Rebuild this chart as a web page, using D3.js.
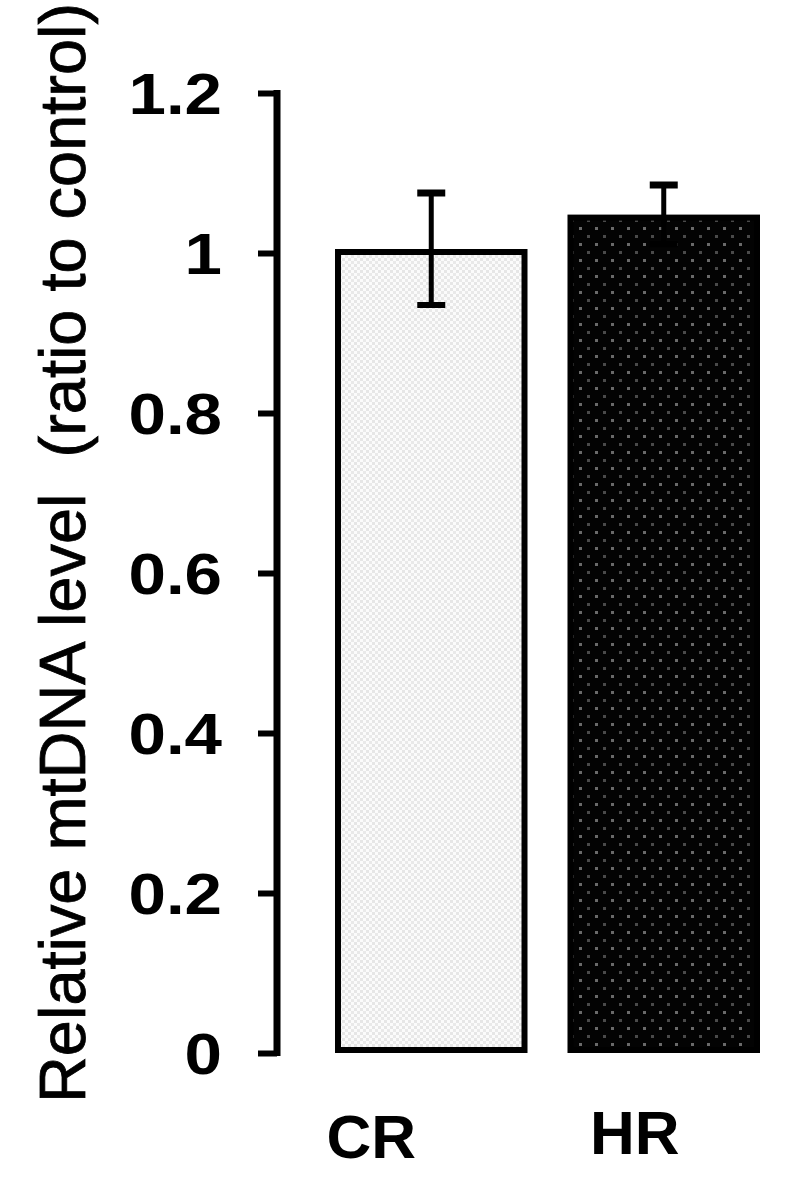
<!DOCTYPE html>
<html>
<head>
<meta charset="utf-8">
<title>mtDNA</title>
<style>
  body { margin: 0; background: #fff; }
  svg { display: block; font-family: 'Liberation Sans', Arial, Helvetica, sans-serif; }
  .tick-label { font-size: 58px; font-weight: 700; fill: #000; }
  .cat-label { font-size: 62px; font-weight: 700; fill: #000; }
  .y-title { font-size: 65px; fill: #000; white-space: pre; stroke: #000; stroke-width: 0.8px; }
</style>
</head>
<body>
<div id="chart"></div>
<script src="https://cdn.jsdelivr.net/npm/d3@7"></script>
<script>

// data
var groups = ["CR", "HR"];
var means = [1.005, 1.048];
var errors = [0.07, 0.037];
var yTicks = [0, 0.2, 0.4, 0.6, 0.8, 1, 1.2];
var tickLabels = ["0", "0.2", "0.4", "0.6", "0.8", "1", "1.2"];

var width = 787,
    height = 1183;

var svg = d3.select("#chart").append("svg")
    .attr("width", width)
    .attr("height", height);

// fill patterns
var defs = svg.append("defs");

var light = defs.append("pattern")
    .attr("id", "light")
    .attr("patternUnits", "userSpaceOnUse")
    .attr("width", 6).attr("height", 6);
light.append("rect").attr("width", 6).attr("height", 6).attr("fill", "#fbfbfb");
light.append("rect").attr("x", 0).attr("y", 0).attr("width", 3).attr("height", 3).attr("fill", "#e6e6e6");
light.append("rect").attr("x", 3).attr("y", 3).attr("width", 3).attr("height", 3).attr("fill", "#e9e9e9");

var dark = defs.append("pattern")
    .attr("id", "dark")
    .attr("patternUnits", "userSpaceOnUse")
    .attr("width", 16).attr("height", 16);
dark.append("rect").attr("width", 16).attr("height", 16).attr("fill", "#030303");
dark.append("rect").attr("x", 3).attr("y", 3).attr("width", 3).attr("height", 3).attr("fill", "#6a6a6a");
dark.append("rect").attr("x", 11).attr("y", 11).attr("width", 3).attr("height", 3).attr("fill", "#4a4a4a");

var y = d3.scaleLinear()
    .domain([0, 1.2])
    .range([1053, 93]);

var x = d3.scaleBand()
    .domain(groups)
    .range([335, 760])
    .paddingInner(0.172)
    .paddingOuter(0);

var sw = 6;
var fills = ["url(#light)", "url(#dark)"];
var labelShift = [-60, -29];

// bars
svg.append("g")
    .selectAll("rect")
    .data(groups)
    .enter().append("rect")
    .attr("x", function(d) { return x(d) + sw / 2; })
    .attr("width", x.bandwidth() - sw)
    .attr("y", function(d, i) { return y(means[i]) + sw / 2; })
    .attr("height", function(d, i) { return y(0) - y(means[i]) - sw; })
    .attr("fill", function(d, i) { return fills[i]; })
    .attr("stroke", "#000")
    .attr("stroke-width", sw);

// error bars
var eb = svg.append("g")
    .selectAll("g")
    .data(groups)
    .enter().append("g");

eb.append("line")
    .attr("x1", function(d) { return x(d) + x.bandwidth() / 2; })
    .attr("x2", function(d) { return x(d) + x.bandwidth() / 2; })
    .attr("y1", function(d, i) { return y(means[i] - errors[i]); })
    .attr("y2", function(d, i) { return y(means[i] + errors[i]); })
    .attr("stroke", "#000")
    .attr("stroke-width", 5);

eb.append("line")
    .attr("x1", function(d) { return x(d) + x.bandwidth() / 2 - 14; })
    .attr("x2", function(d) { return x(d) + x.bandwidth() / 2 + 14; })
    .attr("y1", function(d, i) { return y(means[i] + errors[i]); })
    .attr("y2", function(d, i) { return y(means[i] + errors[i]); })
    .attr("stroke", "#000")
    .attr("stroke-width", 7);

eb.append("line")
    .attr("x1", function(d) { return x(d) + x.bandwidth() / 2 - 14; })
    .attr("x2", function(d) { return x(d) + x.bandwidth() / 2 + 14; })
    .attr("y1", function(d, i) { return y(means[i] - errors[i]); })
    .attr("y2", function(d, i) { return y(means[i] - errors[i]); })
    .attr("stroke", "#000")
    .attr("stroke-width", 6);

// y axis
var axis = d3.axisLeft(y)
    .tickValues(yTicks)
    .tickFormat(function(d, i) { return tickLabels[i]; })
    .tickSize(19)
    .tickSizeOuter(0)
    .tickPadding(36);

var gAxis = svg.append("g")
    .attr("transform", "translate(277,0)")
    .attr("font-size", null)
    .attr("font-family", null)
    .call(axis);

gAxis.select(".domain")
    .attr("stroke", "#000")
    .attr("stroke-width", 7)
    .attr("d", "M0," + (y(1.2) - 3) + "V" + (y(0) + 3));
gAxis.selectAll(".tick line")
    .attr("stroke", "#000")
    .attr("stroke-width", 6);
var stretch = 1.16;
gAxis.selectAll(".tick text")
    .attr("class", "tick-label")
    .attr("x", -55 / stretch)
    .attr("transform", "scale(" + stretch + ",1)")
    .attr("dy", "0.36em");
gAxis.attr("font-size", null).attr("font-family", null);

// category labels
svg.append("g")
    .selectAll("text")
    .data(groups)
    .enter().append("text")
    .attr("class", "cat-label")
    .attr("text-anchor", "middle")
    .attr("x", function(d, i) { return x(d) + x.bandwidth() / 2 + labelShift[i]; })
    .attr("y", function(d, i) { return i === 0 ? 1158 : 1154; })
    .text(function(d) { return d; });

// y title
svg.append("text")
    .attr("class", "y-title")
    .attr("transform", "translate(85,1103) rotate(-90)")
    .attr("textLength", 1100)
    .attr("lengthAdjust", "spacingAndGlyphs")
    .text("Relative mtDNA level  (ratio to control)");

</script>
</body>
</html>
